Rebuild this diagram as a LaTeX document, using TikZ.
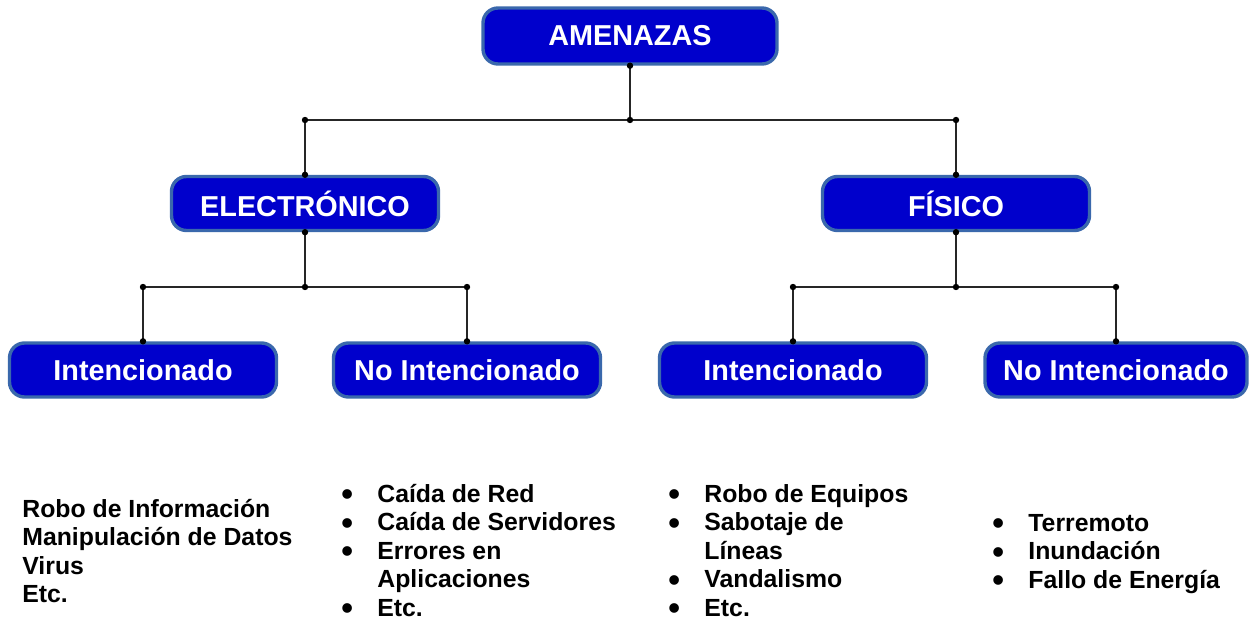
\documentclass[tikz,border=0pt]{standalone}
\usepackage{fontspec}
\usepackage{graphicx}
\setmainfont{Liberation Sans}
\usetikzlibrary{positioning}
\definecolor{azul}{RGB}{0,0,204}
\definecolor{borde}{RGB}{58,104,172}
\newcommand{\itm}[1]{\makebox[18pt][l]{\smash{\raisebox{-0.15em}{\scalebox{1.35}{\textbullet}}}}#1}
\newcommand{\cont}[1]{\hspace*{18pt}#1}
\tikzset{
caja/.style={draw=borde, line width=1.7pt, fill=azul, rounded corners=7.5pt,
  text=white, font=\bfseries\fontsize{14.4}{16}\selectfont,
  minimum width=133.5pt, minimum height=27pt, inner sep=0pt}, % the blue boxes
conn/.style={draw=black!85, line width=0.8pt}, % the connecting lines
lista/.style={inner sep=0pt, anchor=base west, align=left,
  font=\bfseries\fontsize{12.4}{14.25}\selectfont}, % the lists under the boxes
}

\begin{document}
\begin{tikzpicture}[x=0.5pt, y=-0.5pt]
    \useasboundingbox (0,0) rectangle (1252,620);

    \node[caja, minimum width=147pt, minimum height=28pt] (ame) at (630,36) {AMENAZAS};
    \node[caja] (ele) at (305,203.5) {ELECTRÓNICO};
    \node[caja] (fis) at (956,203.5) {FÍSICO};
    \node[caja] (ei) at (143,370) {Intencionado};
    \node[caja] (en) at (467,370) {No Intencionado};
    \node[caja] (fi) at (793,370) {Intencionado};
    \node[caja, minimum width=131pt] (fn) at (1116,370) {No Intencionado};

    \coordinate (j0) at (630,120);
    \coordinate (j1) at (305,287);
    \coordinate (j2) at (956,287);

    \draw[conn] (ame.south) -- (j0);
    \draw[conn] (ele.north) -- (ele.north |- j0) -- (fis.north |- j0) -- (fis.north);
    \draw[conn] (ele.south) -- (j1);
    \draw[conn] (ei.north) -- (ei.north |- j1) -- (en.north |- j1) -- (en.north);
    \draw[conn] (fis.south) -- (j2);
    \draw[conn] (fi.north) -- (fi.north |- j2) -- (fn.north |- j2) -- (fn.north);

    % junction dots
    \foreach \p in {ame.south, j0, ele.north |- j0, fis.north |- j0, ele.north, fis.north,
                    ele.south, j1, ei.north |- j1, en.north |- j1, ei.north, en.north,
                    fis.south, j2, fi.north |- j2, fn.north |- j2, fi.north, fn.north}
        \fill (\p) circle[radius=1.6pt];

    \node[lista] (l1) at (22,517) {\begin{tabular}[t]{@{}l@{}}
        Robo de Información\\ Manipulación de Datos\\ Virus\\ Etc.\end{tabular}};
    \node[lista] (l2) at (341,502) {\begin{tabular}[t]{@{}l@{}}
        \itm{Caída de Red}\\ \itm{Caída de Servidores}\\ \itm{Errores en}\\
        \cont{Aplicaciones}\\ \itm{Etc.}\end{tabular}};
    \node[lista] (l3) at (668,502) {\begin{tabular}[t]{@{}l@{}}
        \itm{Robo de Equipos}\\ \itm{Sabotaje de}\\ \cont{Líneas}\\
        \itm{Vandalismo}\\ \itm{Etc.}\end{tabular}};
    \node[lista] (l4) at (992,531) {\begin{tabular}[t]{@{}l@{}}
        \itm{Terremoto}\\ \itm{Inundación}\\ \itm{Fallo de Energía}\end{tabular}};

\end{tikzpicture}
\end{document}
